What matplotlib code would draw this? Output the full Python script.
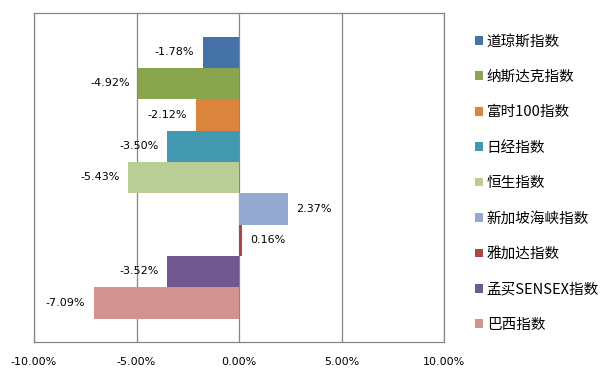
import matplotlib
matplotlib.use("Agg")
from matplotlib import pyplot as plt

# index names and their daily change (%)
names = ["道琼斯指数", "纳斯达克指数", "富时100指数", "日经指数", "恒生指数",
         "新加坡海峡指数", "雅加达指数", "孟买SENSEX指数", "巴西指数"]
changes = [-1.78, -4.92, -2.12, -3.50, -5.43, 2.37, 0.16, -3.52, -7.09]
colors = ["#4572A7", "#89A54E", "#DB843D", "#4198AF", "#B9CD96",
          "#93A9CF", "#AA4643", "#71588F", "#D19392"]
xticks = [-10, -5, 0, 5, 10]

plt.rcParams["font.family"] = ["DejaVu Sans", "Noto Sans CJK SC"]

fig = plt.figure(figsize=(6.15, 3.76), dpi=100)
ax = fig.add_axes([34 / 615, 34 / 376, 410 / 615, 329 / 376])

# one bar per series, stacked one under the other
for i, (name, val, col) in enumerate(zip(names, changes, colors)):
    bars = ax.barh(i, val, height=1.0, color=col, label=name, zorder=2)
    ax.bar_label(bars, labels=["%.2f%%" % val], padding=6, fontsize=8)

ax.set_xlim(-10, 10)
ax.set_ylim(9.25, -1.25)
ax.set_xticks(xticks)
ax.set_xticklabels(["%.2f%%" % t for t in xticks], fontsize=8)
ax.set_yticks([])
ax.tick_params(axis="x", length=0, pad=10.5)
ax.grid(axis="x", color="#868686", linewidth=0.9, zorder=0)
for s in ax.spines.values():
    s.set_color("#868686")
    s.set_linewidth(0.9)

ax.legend(loc="upper left", bbox_to_anchor=(475 / 615, 1 - 34.5 / 376),
          bbox_transform=fig.transFigure, frameon=False, borderpad=0,
          borderaxespad=0, handlelength=0.55, handleheight=0.55,
          handletextpad=0.25, labelspacing=1.47,
          prop={"family": ["Noto Sans CJK SC"], "size": 10.5})

fig.savefig("out.png", dpi=100)
